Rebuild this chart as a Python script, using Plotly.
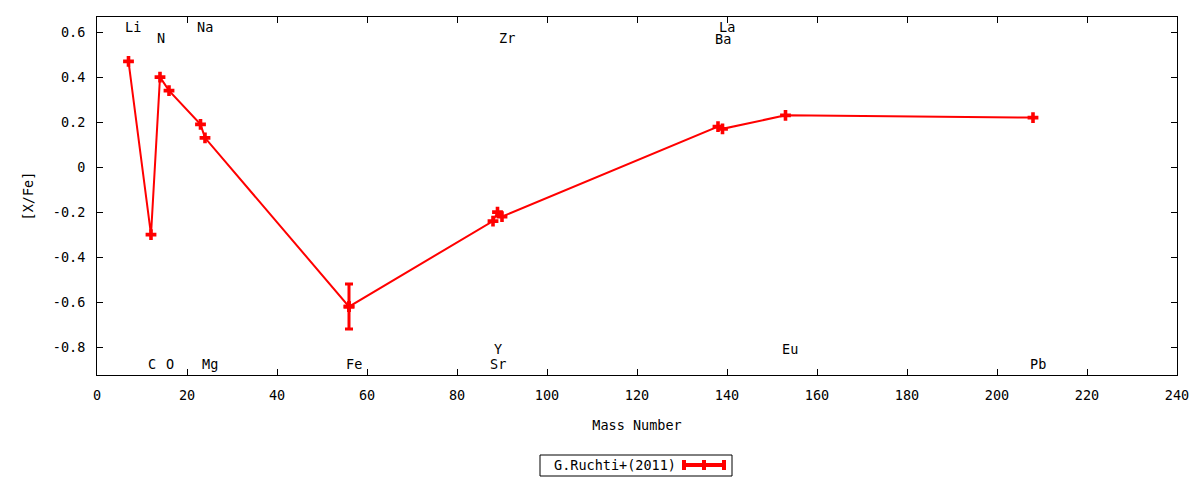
import plotly.graph_objects as go

# ---- data ----
elements = ["Li", "C", "N", "O", "Na", "Mg", "Fe", "Sr", "Y", "Zr", "Ba", "La", "Eu", "Pb"]
mass_number = [7, 12, 14, 16, 23, 24, 56, 88, 89, 90, 138, 139, 153, 208]
x_fe = [0.47, -0.30, 0.40, 0.34, 0.19, 0.13, -0.62, -0.24, -0.20, -0.22, 0.18, 0.17, 0.23, 0.22]
fe_err = 0.10
series_name = "G.Ruchti+(2011)"
y_tick_vals = [-0.8, -0.6, -0.4, -0.2, 0, 0.2, 0.4, 0.6]
y_tick_text = ["-0.8", "-0.6", "-0.4", "-0.2", "0", "0.2", "0.4", "0.6"]
x_tick_vals = [0, 20, 40, 60, 80, 100, 120, 140, 160, 180, 200, 220, 240]

# label rows (layout)
label_row = {"Li": 0.622, "Na": 0.622, "La": 0.624,
             "N": 0.573, "Zr": 0.573, "Ba": 0.571,
             "Y": -0.809, "Eu": -0.809}
label_row_default = -0.876

FONT = "DejaVu Sans Mono"
FS = 13.5
RED = "#ff0000"

fig = go.Figure()
fig.add_trace(go.Scatter(
    x=mass_number, y=x_fe, mode="lines+markers", name=series_name,
    line=dict(color=RED, width=2),
    marker=dict(symbol="cross", size=9, color=RED),
    showlegend=False,
))
fe_i = elements.index("Fe")
fig.add_trace(go.Scatter(
    x=[mass_number[fe_i]], y=[x_fe[fe_i]], mode="markers",
    marker=dict(symbol="cross", size=9, color=RED),
    error_y=dict(type="data", array=[fe_err], color=RED, thickness=3, width=4),
    showlegend=False,
))

annotations = []
for el, m in zip(elements, mass_number):
    annotations.append(dict(
        x=m, y=label_row.get(el, label_row_default), xref="x", yref="y",
        text=el, showarrow=False, xanchor="left", yanchor="middle", xshift=-5.5,
        font=dict(family=FONT, size=FS, color="black"),
    ))

W, H = 1200, 480
ml, mr, mt, mb = 97, 23, 17, 105
pw, ph = W - ml - mr, H - mt - mb

def px(xp):
    return (xp - ml) / pw

def py(yp):
    return (H - mb - yp) / ph

# manual gnuplot-style legend
annotations.append(dict(
    x=px(552), y=py(465), xref="paper", yref="paper", text=series_name, showarrow=False,
    xanchor="left", yanchor="middle", font=dict(family=FONT, size=FS, color="black"),
))

shapes = [
    dict(type="rect", xref="paper", yref="paper", x0=px(540), x1=px(732), y0=py(476), y1=py(455),
         line=dict(color="black", width=1), fillcolor="white", layer="below"),
    dict(type="line", xref="paper", yref="paper", x0=px(684), x1=px(724), y0=py(465), y1=py(465),
         line=dict(color=RED, width=4)),
    dict(type="line", xref="paper", yref="paper", x0=px(684), x1=px(684), y0=py(460), y1=py(470),
         line=dict(color=RED, width=4)),
    dict(type="line", xref="paper", yref="paper", x0=px(724), x1=px(724), y0=py(460), y1=py(470),
         line=dict(color=RED, width=4)),
    dict(type="line", xref="paper", yref="paper", x0=px(704), x1=px(704), y0=py(460), y1=py(470),
         line=dict(color=RED, width=4)),
]

fig.update_layout(
    width=W, height=H,
    margin=dict(l=ml, r=mr, t=mt, b=mb),
    plot_bgcolor="white", paper_bgcolor="white",
    font=dict(family=FONT, size=FS, color="black"),
    annotations=annotations, shapes=shapes,
    showlegend=False,
)
fig.update_xaxes(
    range=[0, 240], tickvals=x_tick_vals, showgrid=False, zeroline=False,
    showline=True, linecolor="black", linewidth=1, mirror="ticks",
    ticks="inside", ticklen=6, tickcolor="black",
    ticklabelstandoff=8,
    title=dict(text="Mass Number", standoff=18, font=dict(family=FONT, size=FS)),
    tickfont=dict(family=FONT, size=FS),
)
fig.update_yaxes(
    range=[-0.924, 0.667], tickvals=y_tick_vals, ticktext=y_tick_text,
    showgrid=False, zeroline=False,
    showline=True, linecolor="black", linewidth=1, mirror="ticks",
    ticks="inside", ticklen=6, tickcolor="black",
    ticklabelstandoff=8,
    title=dict(text="[X/Fe]", standoff=16, font=dict(family=FONT, size=FS)),
    tickfont=dict(family=FONT, size=FS),
)

fig.write_html("out.html", config={"displayModeBar": False})

# remove default body margin so the figure sits at the page origin
with open("out.html", "r", encoding="utf-8") as f:
    html = f.read()
html = html.replace("<head>", "<head><style>html,body{margin:0;padding:0;}</style>", 1)
with open("out.html", "w", encoding="utf-8") as f:
    f.write(html)
